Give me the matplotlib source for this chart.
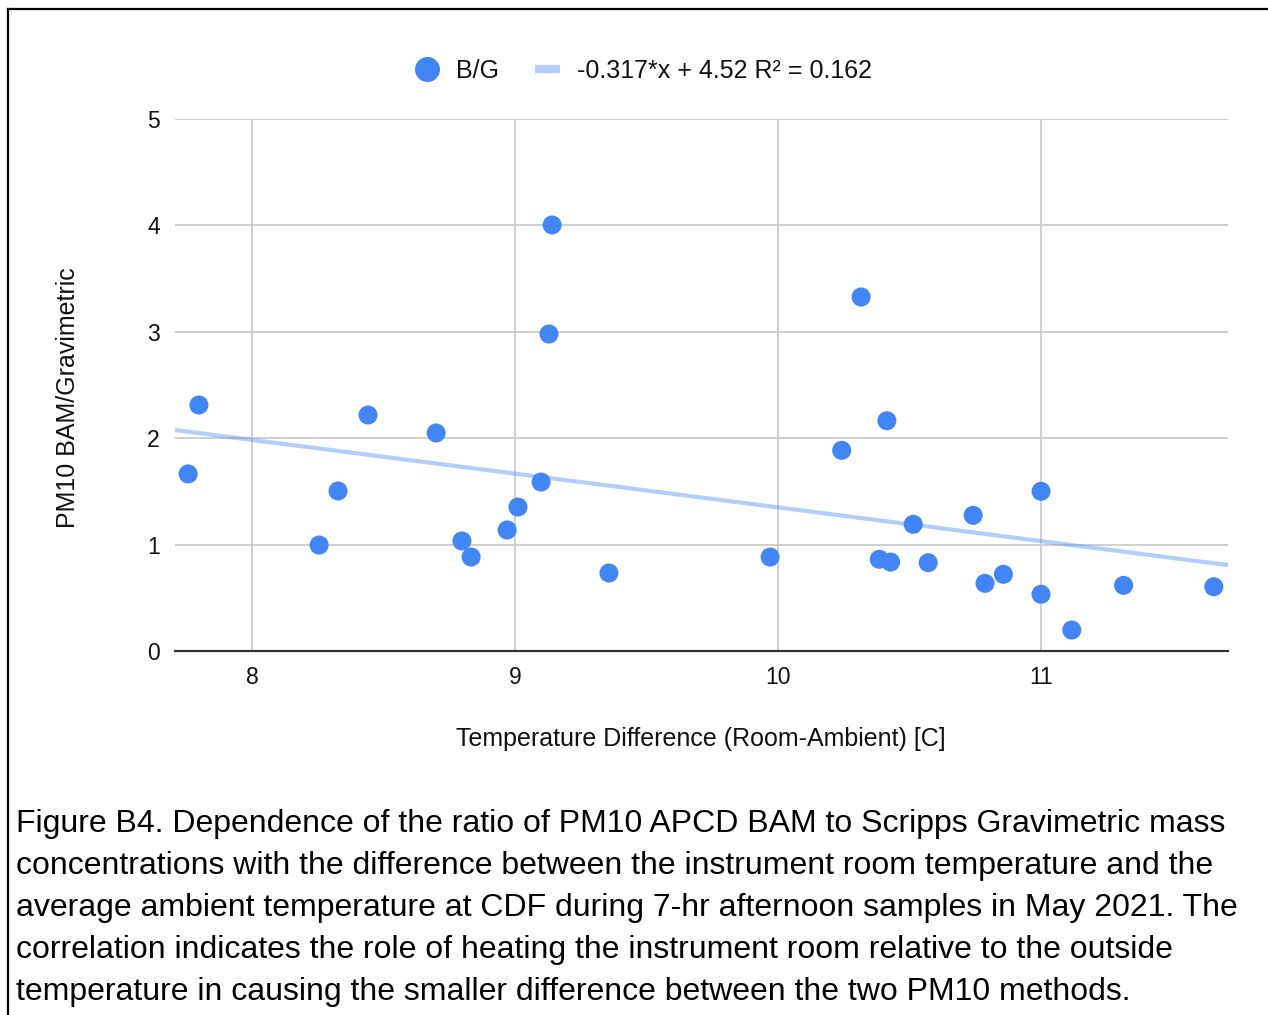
import matplotlib
matplotlib.use("Agg")
import matplotlib.pyplot as plt
from matplotlib.lines import Line2D

plt.rcParams['font.family'] = ['Liberation Sans', 'DejaVu Sans']

# ----------- DATA -----------
temp_diff = [7.757, 7.798, 8.255, 8.327, 8.441, 8.700, 8.798, 8.833, 8.970, 9.011,
             9.099, 9.129, 9.141, 9.357, 9.970, 10.242, 10.316, 10.385, 10.414, 10.428,
             10.514, 10.571, 10.742, 10.787, 10.857, 11.000, 11.000, 11.117, 11.314, 11.657]
ratio_bg = [1.664, 2.312, 0.996, 1.504, 2.218, 2.049, 1.034, 0.883, 1.137, 1.353,
            1.588, 2.979, 4.004, 0.733, 0.883, 1.886, 3.327, 0.862, 2.164, 0.836,
            1.191, 0.830, 1.275, 0.636, 0.721, 1.501, 0.533, 0.197, 0.617, 0.604]
slope, intercept, r2 = -0.317, 4.52, 0.162
x_ticks = [8, 9, 10, 11]
y_ticks = [0, 1, 2, 3, 4, 5]
x_range = (7.707, 11.711)
y_range = (0, 5)

caption_lines = [
    "Figure B4. Dependence of the ratio of PM10 APCD BAM to Scripps Gravimetric mass",
    "concentrations with the difference between the instrument room temperature and the",
    "average ambient temperature at CDF during 7-hr afternoon samples in May 2021. The",
    "correlation indicates the role of heating the instrument room relative to the outside",
    "temperature in causing the smaller difference between the two PM10 methods.",
]

BLUE = "#4285F4"
W, H = 1268, 1015

fig = plt.figure(figsize=(W / 100, H / 100), dpi=100)
ax = fig.add_axes([175 / W, 1 - 651 / H, (1228 - 175) / W, (651 - 119) / H])

# trendline
xs = list(x_range)
ys = [slope * v + intercept for v in xs]
ax.plot(xs, ys, color=BLUE, alpha=0.4, lw=3, solid_capstyle="butt", zorder=2)

# points
ax.scatter(temp_diff, ratio_bg, s=19 ** 2 * 0.52, color=BLUE, edgecolors="none", zorder=3)

ax.set_xlim(*x_range)
ax.set_ylim(*y_range)
ax.set_xticks(x_ticks)
ax.set_yticks(y_ticks)
ax.grid(True, color="#cccccc", lw=1.3, zorder=0)
ax.set_axisbelow(True)
for s in ["top", "right", "left"]:
    ax.spines[s].set_visible(False)
ax.spines["bottom"].set_color("#333333")
ax.spines["bottom"].set_linewidth(1.6)
ax.spines["bottom"].set_zorder(4)
ax.tick_params(length=0, labelsize=16.5, labelcolor="#111111", pad=11)

# axis titles
fig.text(701 / W, 1 - 739 / H, "Temperature Difference (Room-Ambient) [C]",
         ha="center", va="center", fontsize=18, color="#111111")
fig.text(68 / W, 1 - 398 / H, "PM10 BAM/Gravimetric", rotation=90,
         ha="center", va="center", fontsize=18, color="#111111")

# legend
handles = [
    Line2D([], [], ls="none", marker="o", ms=18, color=BLUE, mec="none"),
    Line2D([], [], color=BLUE, alpha=0.4, lw=6, solid_capstyle="butt"),
]
labels = ["B/G", f"{slope}*x + {intercept} R\u00b2 = {r2}"]
fig.legend(handles, labels, loc="center", bbox_to_anchor=(643 / W, 1 - 71 / H),
           ncol=2, frameon=False, fontsize=18, handlelength=1.0,
           handletextpad=0.7, columnspacing=1.4, labelcolor="#111111")

# frame lines
fig.add_artist(Line2D([8 / W, 1], [1 - 9 / H, 1 - 9 / H], transform=fig.transFigure,
                      color="black", lw=1.6))
fig.add_artist(Line2D([8 / W, 8 / W], [0, 1 - 9 / H], transform=fig.transFigure,
                      color="black", lw=1.6))

# caption
for i, line in enumerate(caption_lines):
    fig.text(16 / W, 1 - (824 + 42 * i) / H, line, ha="left", va="center",
             fontsize=23, color="black")

fig.savefig("out.png", dpi=100)
